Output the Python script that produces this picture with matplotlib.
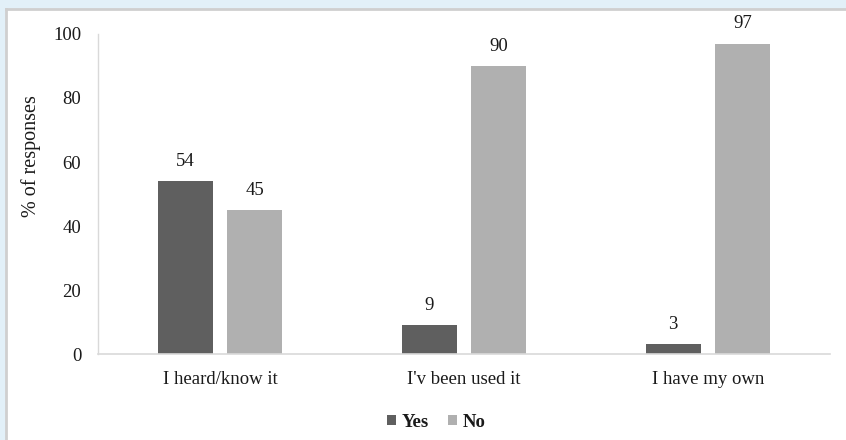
import matplotlib
matplotlib.use("Agg")
import matplotlib.pyplot as plt
from matplotlib.patches import Rectangle
import numpy as np

categories = ["I heard/know it", "I'v been used it", "I have my own"]
yes_values = [54, 9, 3]
no_values = [45, 90, 97]
series_names = ["Yes", "No"]

plt.rcParams["font.family"] = ["Liberation Serif", "DejaVu Serif"]

fig = plt.figure(figsize=(8.46, 4.4), dpi=100)
fig.patch.set_facecolor("#e2f0f8")

# white panel with a thin grey frame on the top and left edges
fig.add_artist(Rectangle((6 / 846, 0), 1, 1 - 9 / 440, transform=fig.transFigure,
                         facecolor="white", edgecolor="none", zorder=-2))
fig.add_artist(plt.Line2D([6 / 846, 6 / 846], [0, 1 - 9 / 440], transform=fig.transFigure,
                          color="#cfcfcf", lw=2, zorder=-1))
fig.add_artist(plt.Line2D([6 / 846, 1], [1 - 9 / 440, 1 - 9 / 440], transform=fig.transFigure,
                          color="#cfcfcf", lw=2, zorder=-1))

ax = fig.add_axes([98 / 846, 1 - 354 / 440, 732 / 846, 320 / 440])
ax.set_zorder(2)
ax.set_facecolor("white")

txt = "#1a1a1a"
fs = 13.5

x = np.arange(len(categories))
w = 0.225
off = 0.143
b1 = ax.bar(x - off, yes_values, w, color="#5f5f5f", label=series_names[0])
b2 = ax.bar(x + off, no_values, w, color="#b0b0b0", label=series_names[1])

for bars in (b1, b2):
    for r in bars:
        ax.text(r.get_x() + r.get_width() / 2, r.get_height() + 3.5, f"{r.get_height():g}",
                ha="center", va="bottom", fontsize=fs, color=txt)

ax.set_xlim(-0.5, 2.5)
ax.set_ylim(0, 100)
ax.set_yticks([0, 20, 40, 60, 80, 100])
ax.set_xticks(x)
ax.set_xticklabels(categories)
ax.tick_params(axis="both", length=0, labelsize=fs, colors=txt)
ax.tick_params(axis="y", pad=12)
ax.tick_params(axis="x", pad=12)

for s in ("top", "right"):
    ax.spines[s].set_visible(False)
ax.spines["left"].set_color("#d9d9d9")
ax.spines["bottom"].set_color("#d9d9d9")
ax.spines["left"].set_linewidth(1)
ax.spines["bottom"].set_linewidth(1.2)

ax.set_ylabel("% of responses", fontsize=14.5, color=txt)
ax.yaxis.set_label_coords(-0.078, 0.62)

leg = ax.legend(loc="center", bbox_to_anchor=(0.462, -0.213), ncol=2, frameon=False,
                handlelength=0.5, handleheight=0.5, handletextpad=0.3, columnspacing=1.0,
                prop={"weight": "bold", "size": fs})
for t in leg.get_texts():
    t.set_color(txt)

fig.savefig("out.png", dpi=100, facecolor=fig.get_facecolor())
